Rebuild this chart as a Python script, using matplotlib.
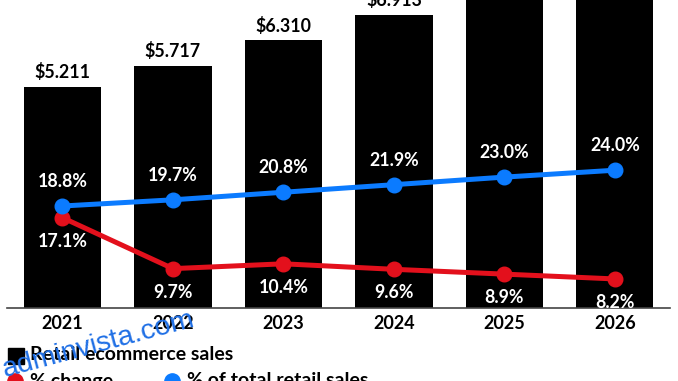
import matplotlib
matplotlib.use('Agg')
import matplotlib.pyplot as plt
from matplotlib.lines import Line2D

years = ['2021', '2022', '2023', '2024', '2025', '2026']
sales = [5.211, 5.717, 6.310, 6.913, 7.528, 8.148]
sales_labels = ['$5.211', '$5.717', '$6.310', '$6.913', '$7.528', '$8.148']
pct_change = [17.1, 9.7, 10.4, 9.6, 8.9, 8.2]
pct_total = [18.8, 19.7, 20.8, 21.9, 23.0, 24.0]

plt.rcParams['font.family'] = ['Lato', 'DejaVu Sans']

W, H = 678, 381
fig = plt.figure(figsize=(W / 100, H / 100), dpi=100)
ax = fig.add_axes([7.25 / W, (H - 307.7) / H, (670 - 7.25) / W, 307.7 / H])

x = list(range(len(years)))
ax.bar(x, sales, width=0.7, color='black', zorder=1)
ax.set_xlim(-0.5, 5.5)
ax.set_ylim(0, 7.266)
for s in ['top', 'right', 'left']:
    ax.spines[s].set_visible(False)
ax.spines['bottom'].set_color('#444444')
ax.spines['bottom'].set_linewidth(1.2)
ax.set_yticks([])
ax.set_xticks(x)
ax.set_xticklabels(years, fontsize=13, fontweight='bold')
ax.tick_params(axis='x', length=0, pad=5)

for xi, v, lab in zip(x, sales, sales_labels):
    ax.annotate(lab, (xi, v), xytext=(0, 4), textcoords='offset points',
                ha='center', va='bottom', fontsize=12.8, fontweight='bold',
                color='black', annotation_clip=False)

ax2 = ax.twinx()
ax2.set_ylim(4.02, 48.74)
ax2.set_yticks([])
for s in ax2.spines.values():
    s.set_visible(False)

red = '#E3101C'
blue = '#0B7BFF'
ax2.plot(x, pct_change, color=red, lw=3.6, marker='o', ms=10.5, zorder=3)
ax2.plot(x, pct_total, color=blue, lw=3.6, marker='o', ms=10.5, zorder=4)

for xi, v in zip(x, pct_total):
    ax2.annotate(f'{v:.1f}%', (xi, v), xytext=(0, 17.5), textcoords='offset points',
                 ha='center', va='center', fontsize=12.8, fontweight='bold',
                 color='white')
for xi, v in zip(x, pct_change):
    ax2.annotate(f'{v:.1f}%', (xi, v), xytext=(0, -17), textcoords='offset points',
                 ha='center', va='center', fontsize=12.8, fontweight='bold',
                 color='white')

# legend (manual)
def fx(px):
    return px / W

def fy(py):
    return (H - py) / H

fig.add_artist(Line2D([fx(16)], [fy(355.5)], marker='s', ms=11.5, color='black',
                      transform=fig.transFigure))
fig.text(fx(30), fy(355), 'Retail ecommerce sales', fontsize=14, fontweight='bold',
         ha='left', va='center')
fig.add_artist(Line2D([fx(15)], [fy(381)], marker='o', ms=11, color=red,
                      transform=fig.transFigure))
fig.text(fx(30), fy(381), '% change', fontsize=14, fontweight='bold',
         ha='left', va='center')
fig.add_artist(Line2D([fx(172)], [fy(381)], marker='o', ms=11, color=blue,
                      transform=fig.transFigure))
fig.text(fx(187), fy(381), '% of total retail sales', fontsize=14, fontweight='bold',
         ha='left', va='center')

# watermark
fig.text(fx(5), fy(377), 'adminvista.com', rotation=15, rotation_mode='anchor',
         color='#1F6FE5', fontsize=20.5, family='Liberation Sans', ha='left', va='baseline')

fig.savefig('out.png', dpi=100)
